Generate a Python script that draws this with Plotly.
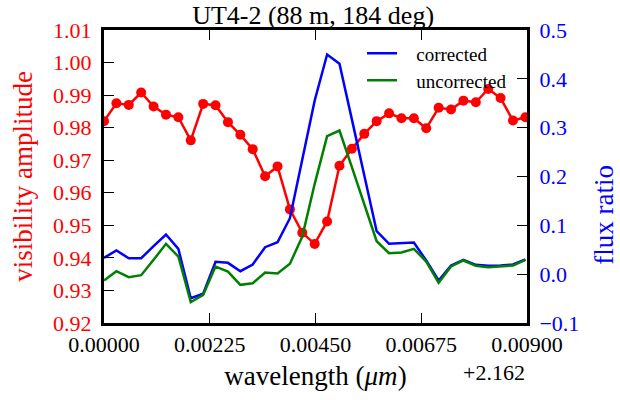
import plotly.graph_objects as go

wavelength_offset = [0.0, 0.000264, 0.000527, 0.000791, 0.001055, 0.001319, 0.001582,
                     0.001846, 0.002110, 0.002373, 0.002637, 0.002901, 0.003164, 0.003428,
                     0.003692, 0.003956, 0.004219, 0.004483, 0.004747, 0.005010, 0.005274,
                     0.005538, 0.005801, 0.006065, 0.006329, 0.006593, 0.006856, 0.007120,
                     0.007384, 0.007647, 0.007911, 0.008175, 0.008438, 0.008702, 0.008966]

visibility = [0.9820, 0.9875, 0.9870, 0.9908, 0.9865, 0.9840, 0.9832, 0.9761, 0.9873,
              0.9869, 0.9817, 0.9778, 0.9734, 0.9651, 0.9681, 0.9549, 0.9477, 0.9443,
              0.9512, 0.9683, 0.9735, 0.9781, 0.9820, 0.9844, 0.9829, 0.9829, 0.9798,
              0.9861, 0.9856, 0.9883, 0.9878, 0.9919, 0.9891, 0.9822, 0.9832]

flux_corrected = [0.0335, 0.0484, 0.0327, 0.0327, 0.0573, 0.0812, 0.0519, -0.0493, -0.0402,
                  0.0253, 0.0232, 0.0061, 0.0198, 0.0552, 0.0654, 0.1146, 0.235, 0.3556,
                  0.4498, 0.4308, 0.317, 0.2014, 0.0880, 0.0622, 0.0634, 0.0648, 0.0279,
                  -0.0130, 0.0177, 0.0294, 0.0191, 0.0171, 0.0180, 0.0198, 0.0300]

flux_uncorrected = [-0.0130, 0.0061, -0.0062, -0.0021, 0.0294, 0.0622, 0.0361, -0.0574,
                    -0.0423, 0.0157, 0.0054, -0.0219, -0.0185, 0.0034, 0.0013, 0.0212,
                    0.077, 0.185, 0.2825, 0.2942, 0.219, 0.143, 0.0675, 0.0429, 0.0443,
                    0.0519, 0.0259, -0.0178, 0.0157, 0.0280, 0.0171, 0.0143, 0.0155,
                    0.0177, 0.0294]

x_ticks = [0.0, 0.00225, 0.0045, 0.00675, 0.009]
x_ticklabels = ["0.00000", "0.00225", "0.00450", "0.00675", "0.00900"]

FONT = "Liberation Serif"
RED = "#ff0000"
BLUE = "#0000ff"
GREEN = "#008000"

fig = go.Figure()
fig.add_trace(go.Scatter(x=wavelength_offset, y=visibility, mode="lines+markers",
                         line=dict(color=RED, width=2.5),
                         marker=dict(color=RED, size=10), showlegend=False, yaxis="y"))
fig.add_trace(go.Scatter(x=wavelength_offset, y=flux_corrected, mode="lines",
                         line=dict(color=BLUE, width=2.5), name="\u00a0\u00a0\u00a0corrected",
                         yaxis="y2", legend="legend"))
fig.add_trace(go.Scatter(x=wavelength_offset, y=flux_uncorrected, mode="lines",
                         line=dict(color=GREEN, width=2.5), name="\u00a0\u00a0\u00a0uncorrected",
                         yaxis="y2", legend="legend2"))

fig.update_layout(
    width=620, height=400,
    margin=dict(l=104, r=93, t=30, b=77, autoexpand=False),
    paper_bgcolor="white", plot_bgcolor="white",
    font=dict(family=FONT, color="black", size=22),
    title=dict(text="UT4-2 (88 m, 184 deg)", x=0.505, xanchor="center",
               y=0.964, yanchor="middle", yref="container",
               font=dict(size=26, family=FONT, color="black")),
    xaxis=dict(range=[0, 0.009], tickvals=x_ticks, ticktext=x_ticklabels,
               ticks="inside", ticklen=10, tickwidth=1.3, tickcolor="black",
               showline=True, linewidth=3, linecolor="black", mirror="ticks",
               showgrid=False, zeroline=False, automargin=False,
               tickfont=dict(size=22, family=FONT, color="black"),
               title=dict(text="wavelength (<i>μm</i>)", standoff=10,
                          font=dict(size=27, family=FONT, color="black"))),
    yaxis=dict(range=[0.92, 1.01], dtick=0.01, tick0=0.92, tickformat=".2f",
               ticks="inside", ticklen=10, tickwidth=1.3, tickcolor="black",
               showline=True, linewidth=3, linecolor="black",
               showgrid=False, zeroline=False, ticklabelstandoff=5, automargin=False,
               tickfont=dict(size=22, family=FONT, color=RED),
               title=dict(text="visibility amplitude", standoff=13,
                          font=dict(size=27, family=FONT, color=RED))),
    yaxis2=dict(range=[-0.1, 0.5], dtick=0.1, tick0=-0.1, tickformat=".1f",
                overlaying="y", side="right",
                ticks="inside", ticklen=10, tickwidth=1.3, tickcolor="black",
                showline=True, linewidth=3, linecolor="black",
                showgrid=False, zeroline=False, ticklabelstandoff=5, automargin=False,
                tickfont=dict(size=22, family=FONT, color=BLUE)),
    legend=dict(x=0.61, y=0.92, xanchor="left", yanchor="middle",
                bgcolor="rgba(0,0,0,0)", borderwidth=0,
                font=dict(size=19, family=FONT, color="black")),
    legend2=dict(x=0.61, y=0.828, xanchor="left", yanchor="middle",
                 bgcolor="rgba(0,0,0,0)", borderwidth=0,
                 font=dict(size=19, family=FONT, color="black")),
)

fig.add_annotation(text="flux ratio", xref="paper", yref="paper", x=1.18, y=0.37,
                   xanchor="center", yanchor="middle", textangle=-90, showarrow=False,
                   font=dict(size=27, family=FONT, color=BLUE))

fig.add_annotation(text="+2.162", xref="paper", yref="paper", x=1.0, y=-0.17,
                   xanchor="right", yanchor="middle", showarrow=False,
                   font=dict(size=22, family=FONT, color="black"))

fig.write_html("out.html", config={"displayModeBar": False},
               post_script="document.body.style.margin='0';document.body.style.padding='0';")
